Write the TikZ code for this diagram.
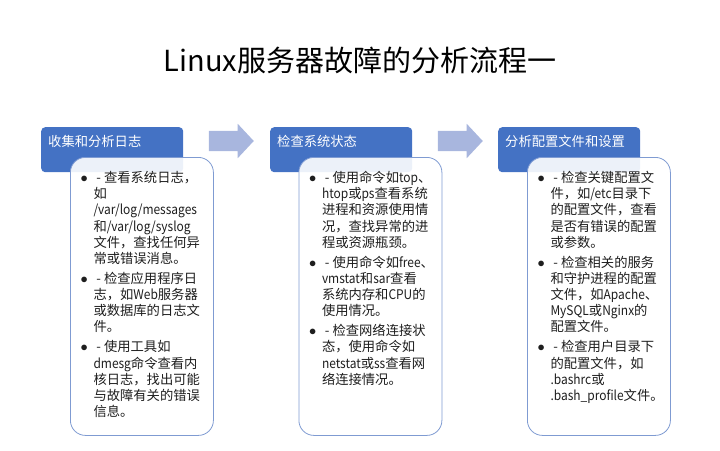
\documentclass[tikz,border=0pt]{standalone}
\usepackage{fontspec}
\setmainfont{Noto Sans CJK SC}
\newfontfamily\latnfont{Noto Sans CJK SC}[FakeStretch=0.9]
\usepackage{tikz}
\usetikzlibrary{positioning, shapes.arrows}
\definecolor{hdrcolor}{RGB}{68,114,196}
\definecolor{arrowcolor}{RGB}{168,182,222}
\definecolor{boxline}{RGB}{127,155,210}
\definecolor{txtcolor}{RGB}{30,30,30}
\newcommand{\itembul}{\makebox[12.8pt][l]{$\bullet$}}
\newcommand{\itemcont}{\hspace*{12.8pt}}
\newcommand{\latn}[1]{{\latnfont #1}}

\begin{document}
\begin{tikzpicture}[
    x=1pt, y=-1pt,
    hdr/.style={rectangle, rounded corners=4pt, fill=hdrcolor, text=white, anchor=north west, text width=128pt, inner xsep=7pt, inner ysep=0pt, minimum height=45pt, text height=10pt, text depth=17pt, align=left, font=\fontsize{13.3pt}{16pt}\selectfont},
    bodybox/.style={rectangle, rounded corners=15pt, draw=boxline, line width=0.8pt, fill=white, fill opacity=0.9, anchor=north west, minimum width=143pt, minimum height=278pt},
    bodytext/.style={anchor=north west, inner sep=0pt, align=left, text=txtcolor, font=\fontsize{13.3pt}{16.2pt}\selectfont},
    blockarrow/.style={single arrow, fill=arrowcolor, inner xsep=0pt, inner ysep=10pt, minimum height=45pt, single arrow head extend=7pt, single arrow tip angle=94}
]
    \useasboundingbox (0,0) rectangle (720,450);

    % Titre
    \node[font=\fontsize{29pt}{33pt}\selectfont] (title) at (360,60) {Linux服务器故障的分析流程一};

    % Etapes
    \node[hdr] (hdr1) at (41,127) {收集和分析日志};
    \node[hdr] (hdr2) at (270,127) {检查系统状态};
    \node[hdr] (hdr3) at (498,127) {分析配置文件和设置};

    \node[blockarrow] (arrow1) at (226.5,141) {};
    \node[blockarrow] (arrow2) at (455.5,141) {};

    \node[bodybox] (body1) at (70,157) {};
    \node[bodybox] (body2) at (298.5,157) {};
    \node[bodybox] (body3) at (527,157) {};

    % Etape 1
    \node[bodytext, below right=14pt and 10.5pt of body1.north west] (list1) {%
        \itembul\ - 查看系统日志，\\
        \itemcont 如\\
        \itemcont \latn{/var/log/messages}\\
        \itemcont 和\latn{/var/log/syslog}\\
        \itemcont 文件，查找任何异\\
        \itemcont 常或错误消息。\\[3.7pt]
        \itembul\ - 检查应用程序日\\
        \itemcont 志，如\latn{Web}服务器\\
        \itemcont 或数据库的日志文\\
        \itemcont 件。\\[3.7pt]
        \itembul\ - 使用工具如\\
        \itemcont \latn{dmesg}命令查看内\\
        \itemcont 核日志，找出可能\\
        \itemcont 与故障有关的错误\\
        \itemcont 信息。};

    % Etape 2
    \node[bodytext, below right=14pt and 10.5pt of body2.north west] (list2) {%
        \itembul\ - 使用命令如\latn{top}、\\
        \itemcont \latn{htop}或\latn{ps}查看系统\\
        \itemcont 进程和资源使用情\\
        \itemcont 况，查找异常的进\\
        \itemcont 程或资源瓶颈。\\[3.7pt]
        \itembul\ - 使用命令如\latn{free}、\\
        \itemcont \latn{vmstat}和\latn{sar}查看\\
        \itemcont 系统内存和\latn{CPU}的\\
        \itemcont 使用情况。\\[3.7pt]
        \itembul\ - 检查网络连接状\\
        \itemcont 态，使用命令如\\
        \itemcont \latn{netstat}或\latn{ss}查看网\\
        \itemcont 络连接情况。};

    % Etape 3
    \node[bodytext, below right=14pt and 10.5pt of body3.north west] (list3) {%
        \itembul\ - 检查关键配置文\\
        \itemcont 件，如\latn{/etc}目录下\\
        \itemcont 的配置文件，查看\\
        \itemcont 是否有错误的配置\\
        \itemcont 或参数。\\[3.7pt]
        \itembul\ - 检查相关的服务\\
        \itemcont 和守护进程的配置\\
        \itemcont 文件，如\latn{Apache}、\\
        \itemcont \latn{MySQL}或\latn{Nginx}的\\
        \itemcont 配置文件。\\[3.7pt]
        \itembul\ - 检查用户目录下\\
        \itemcont 的配置文件，如\\
        \itemcont \latn{.bashrc}或\\
        \itemcont \latn{.bash\_profile}文件。};
\end{tikzpicture}
\end{document}
